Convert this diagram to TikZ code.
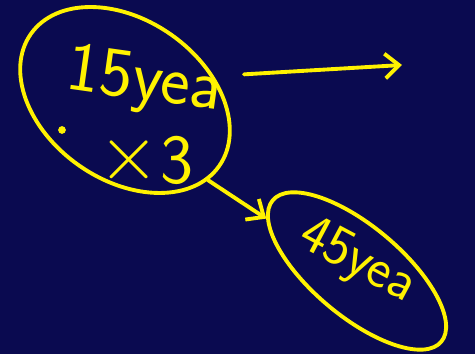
\documentclass[tikz,border=0pt]{standalone}
\usepackage{xcolor}
\usepackage{graphicx}
\usepackage{tikz}
\usetikzlibrary{shapes,shapes.geometric,arrows.meta,positioning,calc}
\definecolor{BoardNavy}{HTML}{0A0A50}
\definecolor{InkYellow}{HTML}{FFF200}

\begin{document}
\begin{tikzpicture}[
  ink/.style={draw=InkYellow,line width=2.2pt,line cap=round},
  loop/.style={ellipse,ink,inner sep=0pt},
  scrawl/.style={text=InkYellow,font=\sffamily\fontsize{40}{40}\selectfont,inner sep=0pt},
  arrow/.style={ink,-{Straight Barb[length=8pt,width=14pt,line width=2.2pt]}}
]
\fill[BoardNavy] (0,0) rectangle (9.5,7.08);
\useasboundingbox (0,0) rectangle (9.5,7.08);

%% Ellipses
\node[loop,minimum width=4.6cm,minimum height=3.2cm,rotate=-35] (e1) at (2.5,5.08) {};
\node[loop,minimum width=4.4cm,minimum height=1.8cm,rotate=-40] (e2) at (7.14,1.66) {};

%% Handwritten texts
\node[scrawl,rotate=-8]  (t1) at (2.88,5.42) {15yea};
\node[scrawl]            (t2) at (2.92,3.88) {\raisebox{2pt}{\scalebox{1.8}{$\times$}}3};
\node[scrawl,rotate=-28,font=\sffamily\fontsize{32}{32}\selectfont] (t3) at (7.14,1.84) {45yea};
\fill[InkYellow] (1.24,4.48) circle (2.2pt);

%% Arrows
\coordinate (out) at (8.04,5.78);
\draw[arrow,shorten <=0.6cm] (e1.50) -- (out);
\draw[arrow] (e1.-9) -- (e2.190);

\end{tikzpicture}
\end{document}
